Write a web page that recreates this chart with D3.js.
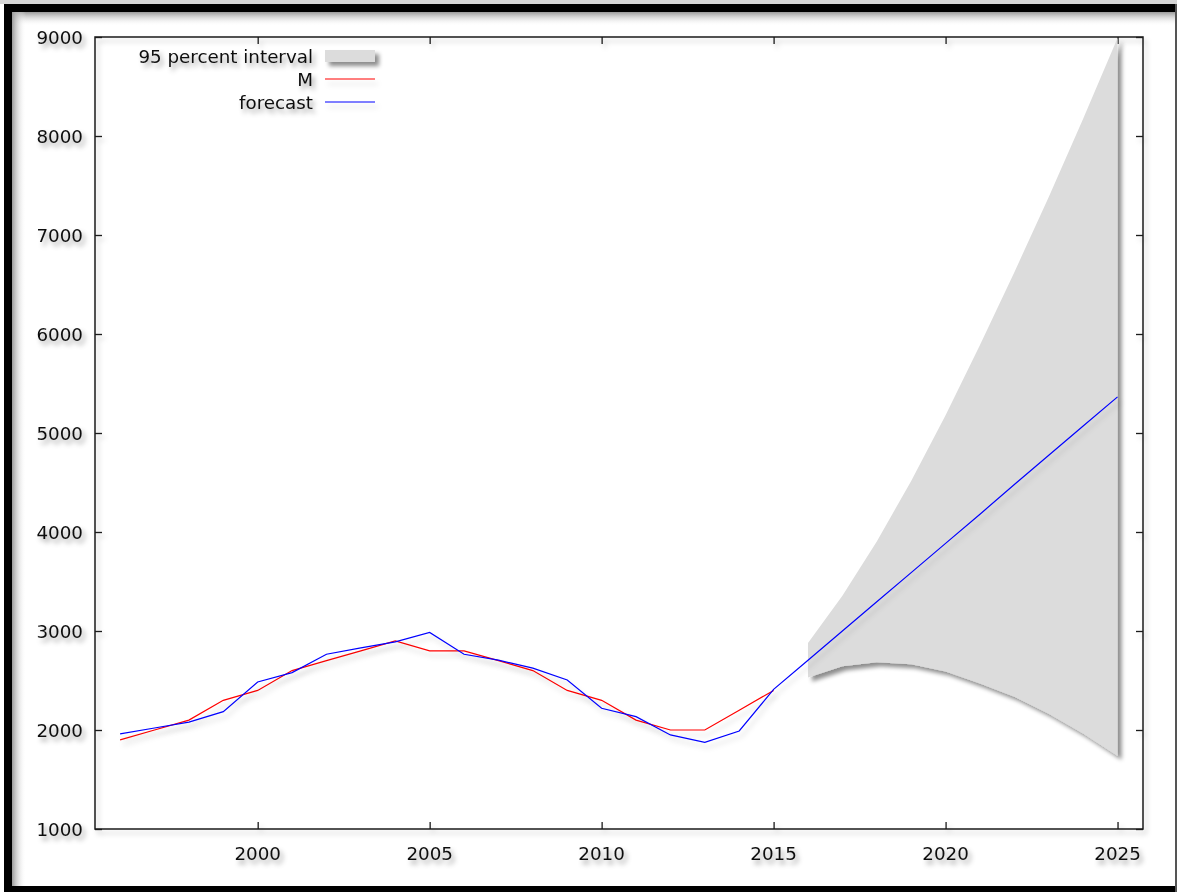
<!DOCTYPE html>
<html>
<head>
<meta charset="utf-8">
<script src="https://cdn.jsdelivr.net/npm/d3@7"></script>
<style>
  html, body { margin: 0; padding: 0; background: #ffffff; }
  svg { display: block; }
  text { font-family: "DejaVu Sans", Verdana, sans-serif; font-size: 18.3px; fill: #111; }
</style>
</head>
<body>
<svg id="chart" width="1177" height="892"></svg>
<script>
// Observed series M (1996-2015)
const yearsM = [1996, 1997, 1998, 1999, 2000, 2001, 2002, 2003, 2004, 2005,
                2006, 2007, 2008, 2009, 2010, 2011, 2012, 2013, 2014, 2015];
const valuesM = [1900, 2000, 2100, 2300, 2400, 2600, 2700, 2800, 2900, 2800,
                 2800, 2700, 2600, 2400, 2300, 2100, 2000, 2000, 2200, 2400];

// Fitted values and forecast (1996-2025)
const yearsF = [1996, 1997, 1998, 1999, 2000, 2001, 2002, 2003, 2004, 2005,
                2006, 2007, 2008, 2009, 2010, 2011, 2012, 2013, 2014, 2015,
                2016, 2017, 2018, 2019, 2020, 2021, 2022, 2023, 2024, 2025];
const valuesF = [1960, 2020, 2080, 2185, 2485, 2580, 2765, 2830, 2890, 2985,
                 2765, 2705, 2625, 2505, 2220, 2135, 1950, 1875, 1990, 2410,
                 2705, 3000, 3295, 3590, 3885, 4180, 4480, 4775, 5070, 5365];

// 95 percent interval (2016-2025)
const yearsCI = [2016, 2017, 2018, 2019, 2020, 2021, 2022, 2023, 2024, 2025];
const lowerCI = [2530, 2645, 2685, 2665, 2590, 2470, 2335, 2165, 1965, 1740];
const upperCI = [2880, 3355, 3905, 4515, 5180, 5890, 6625, 7385, 8175, 8990];

// Axis ticks
const xTicks = [2000, 2005, 2010, 2015, 2020, 2025];
const yTicks = [1000, 2000, 3000, 4000, 5000, 6000, 7000, 8000, 9000];

const svg = d3.select("#chart");
const W = 1177, H = 892;
const plot = { left: 95, right: 1143, top: 37, bottom: 829 };

const x = d3.scaleLinear().domain([1995.27, 2025.74]).range([plot.left, plot.right]);
const y = d3.scaleLinear().domain([1000, 9000]).range([plot.bottom, plot.top]);

// ---- filters (user-space regions so flat lines keep their shadow) --------
const defs = svg.append("defs");
function dropShadow(id, dx, dy, blur, opacity) {
  const f = defs.append("filter").attr("id", id)
    .attr("filterUnits", "userSpaceOnUse")
    .attr("x", 0).attr("y", 0).attr("width", W).attr("height", H);
  f.append("feGaussianBlur").attr("in", "SourceAlpha").attr("stdDeviation", blur).attr("result", "b");
  f.append("feOffset").attr("in", "b").attr("dx", dx).attr("dy", dy).attr("result", "o");
  f.append("feFlood").attr("flood-color", "#000").attr("flood-opacity", opacity).attr("result", "c");
  f.append("feComposite").attr("in", "c").attr("in2", "o").attr("operator", "in").attr("result", "s");
  const m = f.append("feMerge");
  m.append("feMergeNode").attr("in", "s");
  m.append("feMergeNode").attr("in", "SourceGraphic");
}
dropShadow("shText", 3, 4, 2.4, 0.38);
dropShadow("shLine", 3, 5, 2.5, 0.18);
dropShadow("shBand", 4, 4, 2, 0.45);
dropShadow("shFrame", 3, 4, 2.5, 0.2);

const gTop = defs.append("linearGradient").attr("id", "innerTop").attr("x1", 0).attr("y1", 0).attr("x2", 0).attr("y2", 1);
gTop.append("stop").attr("offset", 0).attr("stop-color", "#9a9a9a");
gTop.append("stop").attr("offset", 1).attr("stop-color", "#ffffff").attr("stop-opacity", 0);
const gLeft = defs.append("linearGradient").attr("id", "innerLeft").attr("x1", 0).attr("y1", 0).attr("x2", 1).attr("y2", 0);
gLeft.append("stop").attr("offset", 0).attr("stop-color", "#9a9a9a");
gLeft.append("stop").attr("offset", 1).attr("stop-color", "#ffffff").attr("stop-opacity", 0);

// ---- page frame ----------------------------------------------------------
svg.append("rect").attr("x", 0).attr("y", 0).attr("width", W).attr("height", H).attr("fill", "#ffffff");
svg.append("rect").attr("x", 0).attr("y", 0).attr("width", W).attr("height", 4).attr("fill", "#d6d6d6");
svg.append("rect").attr("x", 4).attr("y", 4).attr("width", 1172).attr("height", H - 4).attr("fill", "#000");
svg.append("rect").attr("x", 12).attr("y", 12).attr("width", 1163).attr("height", 874).attr("fill", "#ffffff");
svg.append("rect").attr("x", 12).attr("y", 12).attr("width", 1163).attr("height", 14).attr("fill", "url(#innerTop)");
svg.append("rect").attr("x", 12).attr("y", 12).attr("width", 14).attr("height", 874).attr("fill", "url(#innerLeft)");
svg.append("rect").attr("x", 1175).attr("y", 4).attr("width", 2).attr("height", H - 4).attr("fill", "#555");

// ---- plot border and ticks ----------------------------------------------
const frame = svg.append("g").attr("filter", "url(#shFrame)");
frame.append("rect")
  .attr("x", plot.left).attr("y", plot.top)
  .attr("width", plot.right - plot.left).attr("height", plot.bottom - plot.top)
  .attr("fill", "none").attr("stroke", "#1a1a1a").attr("stroke-width", 1.5);

const tickLen = 7;
const xAxisB = d3.axisBottom(x).tickValues(xTicks).tickSizeInner(-tickLen).tickSizeOuter(0).tickFormat("");
const xAxisT = d3.axisTop(x).tickValues(xTicks).tickSizeInner(-tickLen).tickSizeOuter(0).tickFormat("");
const yAxisL = d3.axisLeft(y).tickValues(yTicks).tickSizeInner(-tickLen).tickSizeOuter(0).tickFormat("");
const yAxisR = d3.axisRight(y).tickValues(yTicks).tickSizeInner(-tickLen).tickSizeOuter(0).tickFormat("");
[[xAxisB, `translate(0,${plot.bottom})`], [xAxisT, `translate(0,${plot.top})`],
 [yAxisL, `translate(${plot.left},0)`], [yAxisR, `translate(${plot.right},0)`]].forEach(([ax, tr]) => {
  const g = frame.append("g").attr("transform", tr).call(ax);
  g.select(".domain").remove();
  g.selectAll(".tick line").attr("stroke", "#1a1a1a").attr("stroke-width", 1.3);
});

// ---- tick labels ---------------------------------------------------------
const labels = svg.append("g").attr("filter", "url(#shText)");
labels.selectAll(".ylab").data(yTicks).join("text")
  .attr("x", 83).attr("y", d => y(d)).attr("dy", "0.36em")
  .attr("text-anchor", "end").text(d => d);
labels.selectAll(".xlab").data(xTicks).join("text")
  .attr("x", d => x(d)).attr("y", 860)
  .attr("text-anchor", "middle").text(d => d);

// ---- interval band -------------------------------------------------------
const ci = yearsCI.map((yr, i) => ({ yr, lo: lowerCI[i], hi: upperCI[i] }));
const area = d3.area().x(d => x(d.yr)).y0(d => y(d.lo)).y1(d => y(d.hi));
svg.append("path").datum(ci)
  .attr("d", area).attr("fill", "#dcdcdc").attr("filter", "url(#shBand)");

// ---- lines ---------------------------------------------------------------
const line = d3.line().x(d => x(d[0])).y(d => y(d[1]));
svg.append("path").datum(yearsM.map((yr, i) => [yr, valuesM[i]]))
  .attr("d", line).attr("fill", "none").attr("stroke", "#ff0000").attr("stroke-width", 1.2)
  .attr("filter", "url(#shLine)");
svg.append("path").datum(yearsF.map((yr, i) => [yr, valuesF[i]]))
  .attr("d", line).attr("fill", "none").attr("stroke", "#0000ff").attr("stroke-width", 1.2)
  .attr("filter", "url(#shLine)");

// ---- legend --------------------------------------------------------------
const legendItems = [
  { label: "95 percent interval", kind: "band", color: "#dcdcdc", cy: 56 },
  { label: "M", kind: "line", color: "#ff0000", cy: 79 },
  { label: "forecast", kind: "line", color: "#0000ff", cy: 102 }
];
const lg = svg.append("g");
legendItems.forEach(it => {
  lg.append("text").attr("x", 313).attr("y", it.cy).attr("dy", "0.36em")
    .attr("text-anchor", "end").attr("filter", "url(#shText)").text(it.label);
  if (it.kind === "band") {
    lg.append("rect").attr("x", 325).attr("y", it.cy - 6).attr("width", 50).attr("height", 12)
      .attr("fill", it.color).attr("filter", "url(#shBand)");
  } else {
    lg.append("line").attr("x1", 325).attr("x2", 375).attr("y1", it.cy).attr("y2", it.cy)
      .attr("stroke", it.color).attr("stroke-width", 1.2).attr("filter", "url(#shLine)");
  }
});
</script>
</body>
</html>
